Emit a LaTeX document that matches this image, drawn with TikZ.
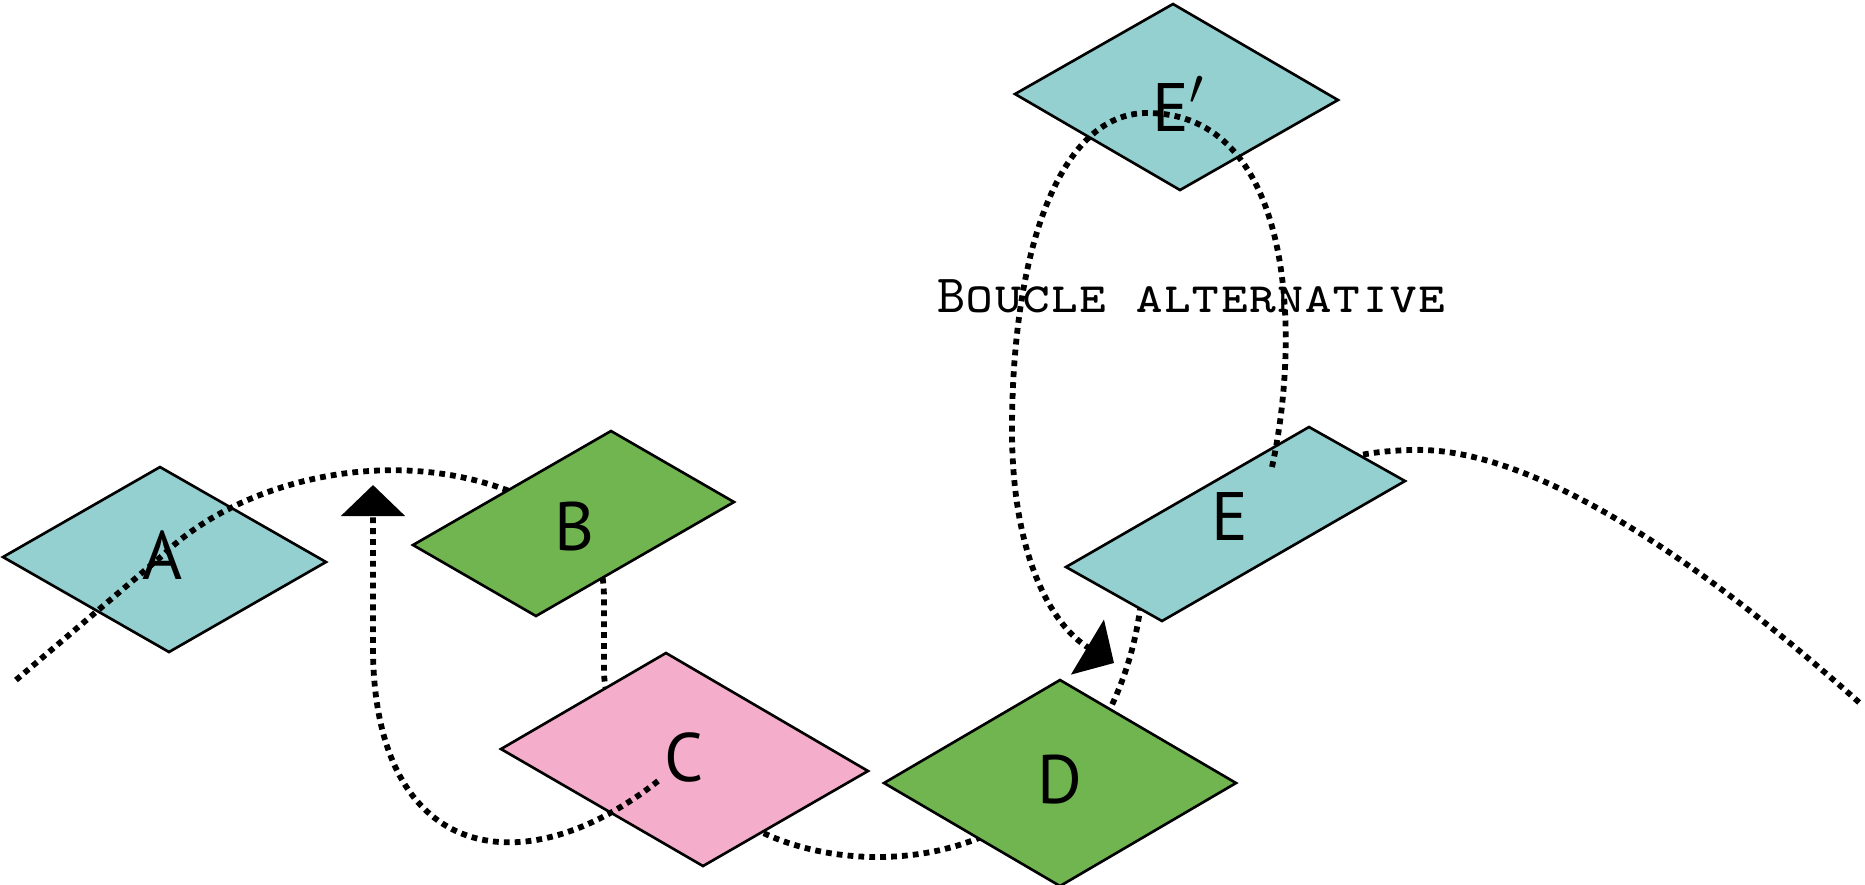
\documentclass[tikz,border=0pt]{standalone}
\usepackage{fontspec}
\setmainfont{PT Sans}
\usetikzlibrary{arrows.meta,backgrounds}
\definecolor{bleu}{RGB}{148,208,208}
\definecolor{vert}{RGB}{113,181,80}
\definecolor{rose}{RGB}{244,174,203}

\begin{document}
\begin{tikzpicture}[x=0.1mm, y=-0.1mm,
    every node/.style={font=\fontsize{19.5}{20}\selectfont, inner sep=0pt},
    tuile/.style={draw=black, line width=0.75pt, line join=miter},
    piste/.style={line width=1.65pt, dash pattern=on 1.65pt off 1.45pt},
    fleche/.style={piste, -{Triangle[length=3.1mm, width=6.3mm]}}]
  \useasboundingbox (0,0) rectangle (1865,884);

  % tuiles sous le parcours
  \begin{scope}[on background layer]
    \filldraw[tuile, fill=bleu] (3,557) -- (160,467) -- (326,562) -- (169,652) -- cycle;
    \node (A) at (163,555) {A};
    \filldraw[tuile, fill=bleu] (1015,94) -- (1173,4) -- (1338,100) -- (1180,190) -- cycle;
    \node (Ep) at (1179,104) {E$'$};
  \end{scope}

  % tuiles au-dessus du parcours
  \filldraw[tuile, fill=vert] (413,545) -- (611,431) -- (734,502) -- (536,616) -- cycle;
  \node (B) at (575,526) {B};
  \filldraw[tuile, fill=rose] (501,749) -- (666,653) -- (868,771) -- (703,866) -- cycle;
  \node (C) at (684,757) {C};
  \filldraw[tuile, fill=vert] (884,783) -- (1060,680) -- (1236,783) -- (1060,886) -- cycle;
  \node (D) at (1060,780) {D};
  \filldraw[tuile, fill=bleu] (1066,567) -- (1309,427) -- (1405,481) -- (1162,621) -- cycle;
  \node (E) at (1230,516) {E};

  \node[anchor=base west, font=\fontsize{15.3}{16}\selectfont\ttfamily\scshape] (boucle) at (937,312) {Boucle alternative};

  \coordinate (debut) at (16,680);
  \coordinate (fin) at (1862,705);
  \coordinate (Cretour) at (658,781);
  \coordinate (Bfleche) at (373,485);
  \coordinate (Eboucle) at (1272,467);
  \coordinate (Dfleche) at (1114,663);

  % parcours principal
  \begin{scope}[on background layer]
    \draw[piste] (debut) -- (A.center)
      .. controls (250,470) and (440,430) .. (B.center)
      .. controls (596,545) and (604,565) .. (604,600) -- (604,670)
      .. controls (604,720) and (640,760) .. (C.center)
      .. controls (730,870) and (960,900) .. (D.center)
      .. controls (1100,740) and (1130,680) .. (1140,610)
      .. controls (1150,560) and (1200,530) .. (E.center)
      .. controls (1300,470) and (1340,452) .. (1410,450)
      .. controls (1530,445) and (1700,560) .. (fin);
  \end{scope}

  % retours
  \draw[fleche] (Cretour) .. controls (520,890) and (370,860) .. (373,640) -- (Bfleche);
  \draw[fleche] (Eboucle) .. controls (1302,330) and (1292,113) .. (1147,113)
    .. controls (1060,113) and (1012,250) .. (1012,430)
    .. controls (1012,560) and (1054,627) .. (Dfleche);
\end{tikzpicture}
\end{document}
